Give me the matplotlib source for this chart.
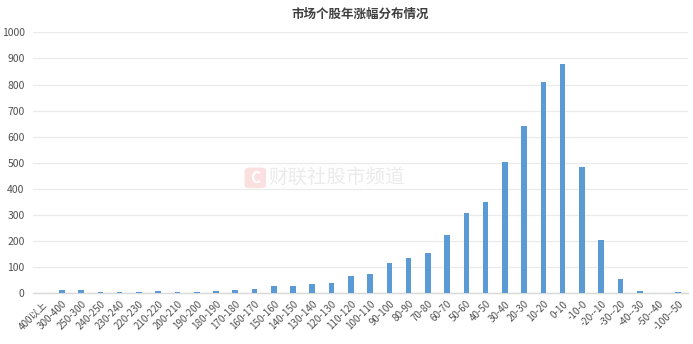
import matplotlib

matplotlib.use("Agg")

import matplotlib.pyplot as plt
from matplotlib.patches import FancyBboxPatch

plt.rcParams["font.family"] = ["Noto Sans CJK SC", "DejaVu Sans"]

# 涨幅区间（%）与对应个股数量
ranges = [
    "400以上", "300-400", "250-300", "240-250", "230-240", "220-230", "210-220",
    "200-210", "190-200", "180-190", "170-180", "160-170", "150-160", "140-150",
    "130-140", "120-130", "110-120", "100-110", "90-100", "80-90", "70-80",
    "60-70", "50-60", "40-50", "30-40", "20-30", "10-20", "0-10", "-10-0",
    "-20--10", "-30--20", "-40--30", "-50--40", "-100--50",
]
counts = [
    3, 13, 13, 6, 7, 7, 9, 7, 6, 9, 15, 17, 29, 28, 36, 41, 65,
    75, 117, 135, 154, 225, 308, 350, 504, 642, 809, 880, 484,
    205, 57, 10, 2, 6,
]
y_ticks = list(range(0, 1001, 100))

BAR_COLOR = "#5B9BD5"
TEXT_COLOR = "#505050"
GRID_COLOR = "#EBEBEB"

fig = plt.figure(figsize=(6.93, 3.44), dpi=100)
ax = fig.add_axes([0.0476, 0.147, 0.945, 0.759])

x = list(range(len(ranges)))
ax.bar(x, counts, width=0.29, color=BAR_COLOR, zorder=3)

ax.set_xlim(-0.5, len(ranges) - 0.5)
ax.set_ylim(0, 1000)
ax.set_yticks(y_ticks)
ax.set_xticks(x)
ax.set_xticklabels(ranges, rotation=45, ha="right", rotation_mode="anchor")
ax.tick_params(axis="x", length=0, pad=4, labelsize=7, labelcolor=TEXT_COLOR)
ax.tick_params(axis="y", length=0, pad=6, labelsize=7.5, labelcolor=TEXT_COLOR)
for lbl in ax.get_xticklabels() + ax.get_yticklabels():
    lbl.set_fontweight("medium")

ax.grid(axis="y", color=GRID_COLOR, linewidth=0.9, zorder=0)
for side in ("top", "right", "left"):
    ax.spines[side].set_visible(False)
ax.spines["bottom"].set_color("#D9D9D9")
ax.spines["bottom"].set_linewidth(1.0)

fig.text(0.52, 0.958, "市场个股年涨幅分布情况", ha="center", va="center",
         fontsize=9, fontweight="bold", color="#404040")

# 水印
icon = FancyBboxPatch((0.355, 0.455), 0.027, 0.056, boxstyle="round,pad=0.002,rounding_size=0.008",
                      transform=fig.transFigure, facecolor="#FBE0E0", edgecolor="none", zorder=1)
fig.patches.append(icon)
fig.text(0.3685, 0.483, "C", ha="center", va="center", fontsize=11, fontweight="bold",
         color="white", zorder=2)
fig.text(0.387, 0.483, "财联社股市频道", ha="left", va="center", fontsize=14,
         color="#EBEBEB", zorder=2)

fig.savefig("out.png", dpi=100)
plt.close(fig)
